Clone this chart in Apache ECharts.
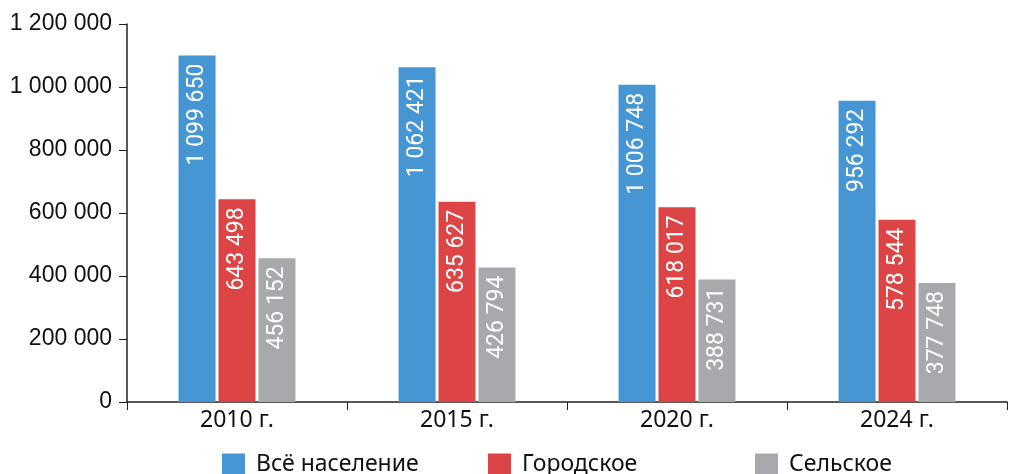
<!DOCTYPE html>
<html>
<head>
<meta charset="utf-8">
<script src="https://cdn.jsdelivr.net/npm/echarts@6/dist/echarts.min.js"></script>
<style>
  html, body { margin: 0; padding: 0; background: #ffffff; }
  #chart { width: 1010px; height: 474px; }
</style>
</head>
<body>
<div id="chart"></div>
<script>
// Численность населения по годам
const years = ['2010 г.', '2015 г.', '2020 г.', '2024 г.'];
const seriesNames = ['Всё население', 'Городское', 'Сельское'];
const totalPop = [1099650, 1062421, 1006748, 956292];
const urbanPop = [643498, 635627, 618017, 578544];
const ruralPop = [456152, 426794, 388731, 377748];
const colors = ['#4596d3', '#dd4445', '#a7a9ac'];

const fmt = v => String(v).replace(/\B(?=(\d{3})+(?!\d))/g, ' ');

const chart = echarts.init(document.getElementById('chart'));

function barSeries(name, data, color) {
  return {
    name: name,
    type: 'bar',
    data: data,
    barWidth: 37,
    barGap: '8%',
    itemStyle: { color: color },
    label: {
      show: true,
      position: 'insideTop',
      rotate: 90,
      align: 'right',
      verticalAlign: 'middle',
      distance: 8,
      color: '#ffffff',
      fontFamily: 'Roboto',
      fontSize: 23,
      formatter: p => fmt(p.value)
    }
  };
}

function legendAt(left, name) {
  return {
    data: [name],
    left: left,
    top: 448,
    itemWidth: 23,
    itemHeight: 22,
    itemGap: 0,
    icon: 'rect',
    textStyle: { fontFamily: 'Noto Sans', fontSize: 23, color: '#111111', padding: [0, 0, 0, 6] }
  };
}

chart.setOption({
  animation: false,
  color: colors,
  legend: [
    legendAt(217, seriesNames[0]),
    legendAt(483, seriesNames[1]),
    legendAt(750, seriesNames[2])
  ],
  grid: { left: 127, right: 3, top: 24, bottom: 72, containLabel: false },
  xAxis: {
    type: 'category',
    data: years,
    axisLine: { lineStyle: { color: '#222222', width: 1.5 } },
    axisTick: { show: true, length: 8, inside: false, lineStyle: { color: '#222222' } },
    axisLabel: { fontFamily: 'Noto Sans', fontSize: 23, color: '#111111', margin: 7 }
  },
  yAxis: {
    type: 'value',
    min: 0,
    max: 1200000,
    interval: 200000,
    splitLine: { show: false },
    axisLine: { show: true, lineStyle: { color: '#222222', width: 1.5 } },
    axisTick: { show: true, length: 8, lineStyle: { color: '#222222' } },
    axisLabel: {
      fontFamily: 'Liberation Sans',
      fontSize: 23,
      color: '#111111',
      margin: 15,
      formatter: v => fmt(v)
    }
  },
  series: [
    barSeries(seriesNames[0], totalPop, colors[0]),
    barSeries(seriesNames[1], urbanPop, colors[1]),
    barSeries(seriesNames[2], ruralPop, colors[2])
  ]
});
</script>
</body>
</html>
